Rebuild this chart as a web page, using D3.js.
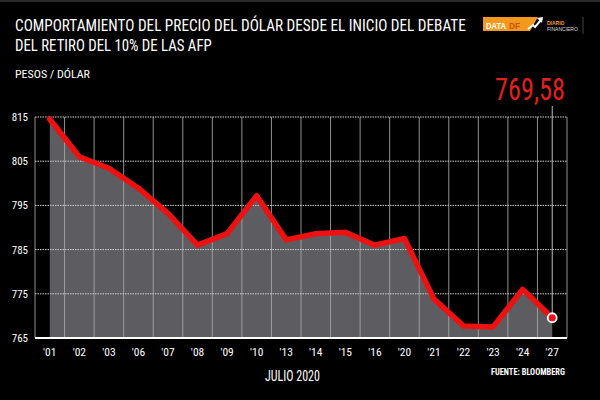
<!DOCTYPE html>
<html><head><meta charset="utf-8">
<script src="https://cdn.jsdelivr.net/npm/d3@7"></script>
<style>
html,body{margin:0;padding:0;background:#000;}
text{font-family:"Liberation Sans Narrow","Arial Narrow","Roboto Condensed","Liberation Sans",sans-serif;}
</style></head>
<body>
<svg id="chart" width="600" height="400"></svg>
<script>
const categories = ["'01","'02","'03","'06","'07","'08","'09","'10","'13","'14","'15","'16","'20","'21","'22","'23","'24","'27"];
const values = [814.5,806.0,803.4,798.9,793.2,786.0,788.6,797.2,787.2,788.6,788.9,786.0,787.5,773.8,767.7,767.5,776.0,769.58];
const yTicks = [765,775,785,795,805,815];
const titleLines = ["COMPORTAMIENTO DEL PRECIO DEL DÓLAR DESDE EL INICIO DEL DEBATE","DEL RETIRO DEL 10% DE LAS AFP"];
const unitLabel = "PESOS / DÓLAR";
const lastLabel = "769,58";
const xTitle = "JULIO 2020";
const source = "FUENTE: BLOOMBERG";

const svg = d3.select("#chart");
svg.append("rect").attr("width",600).attr("height",400).attr("fill","#000");
svg.append("rect").attr("width",600).attr("height",2).attr("fill","#2a2a2a");

const L=35,R=567,T=117,B=338;
const x = d3.scaleBand().domain(categories).range([L,R]).padding(0);
const cx = d => x(d)+x.bandwidth()/2;
const y = d3.scaleLinear().domain([765,815]).range([B,T]);

const data = categories.map((c,i)=>({c,v:values[i]}));

// fit a text horizontally to a target width with a scale transform
function fitText(sel, x0, w){
  const n = sel.node().getComputedTextLength();
  const s = w / n;
  sel.attr("x",0).attr("transform",`translate(${x0},${sel.attr("y")}) scale(${s},1)`).attr("y",0);
  return sel;
}

// area
svg.append("path").datum(data)
  .attr("fill","#5d5c61")
  .attr("d", d3.area().x(d=>cx(d.c)).y0(y(765)).y1(d=>y(d.v)));

// vertical grid at band boundaries
const bounds = categories.map(c=>x(c)).concat([R]);
svg.append("g").selectAll("line").data(bounds).join("line")
  .attr("x1",d=>d).attr("x2",d=>d).attr("y1",T).attr("y2",B)
  .attr("stroke","#a9a9a9").attr("stroke-width",1).attr("opacity",0.85);

// horizontal grid
svg.append("g").selectAll("line").data(yTicks.filter(t=>t>765)).join("line")
  .attr("x1",L).attr("x2",R).attr("y1",d=>y(d)).attr("y2",d=>y(d))
  .attr("stroke","#d0d0d0").attr("stroke-width",1).attr("stroke-dasharray","1.5,1");

// baseline
svg.append("line").attr("x1",L).attr("x2",R).attr("y1",y(765)).attr("y2",y(765))
  .attr("stroke","#fff").attr("stroke-width",2);

// y axis labels
const yAxis = d3.axisLeft(y).tickValues(yTicks).tickSize(0).tickPadding(7);
const ya = svg.append("g").attr("transform",`translate(${L},0)`).call(yAxis);
ya.select(".domain").remove();
ya.selectAll("text").attr("fill","#fff").style("font-size","11px");

// x axis labels
const xAxis = d3.axisBottom(x).tickSize(0).tickPadding(10);
const xa = svg.append("g").attr("transform",`translate(0,${B})`).call(xAxis);
xa.select(".domain").remove();
xa.selectAll("text").attr("fill","#fff").style("font-size","11.5px");

// vertical marker line for last point
const last = data[data.length-1];
svg.append("line").attr("x1",cx(last.c)).attr("x2",cx(last.c)).attr("y1",106).attr("y2",y(last.v))
  .attr("stroke","#bbb").attr("stroke-width",1);

// red line
svg.append("path").datum(data)
  .attr("fill","none").attr("stroke","#ee1111").attr("stroke-width",5.5)
  .attr("stroke-linejoin","round").attr("stroke-linecap","round")
  .attr("d", d3.line().x(d=>cx(d.c)).y(d=>y(d.v)));

svg.append("circle").attr("cx",cx(last.c)).attr("cy",y(last.v)).attr("r",4.5)
  .attr("fill","#e8141a").attr("stroke","#fff").attr("stroke-width",1.8);

// titles
fitText(svg.append("text").attr("y",31).attr("fill","#fff").style("font-size","16px").text(titleLines[0]), 15, 451);
fitText(svg.append("text").attr("y",51).attr("fill","#fff").style("font-size","16px").text(titleLines[1]), 15, 197);
fitText(svg.append("text").attr("y",78).attr("fill","#fff").style("font-size","11px").text(unitLabel), 15, 75);
fitText(svg.append("text").attr("y",100).attr("fill","#e3201b").style("font-size","31px").text(lastLabel), 495, 70);
fitText(svg.append("text").attr("y",381).attr("fill","#fff").style("font-size","14px").text(xTitle), 265, 55);
fitText(svg.append("text").attr("y",375).attr("fill","#fff").style("font-size","9.5px").style("font-weight","bold").text(source), 491, 74);

// logo
const lg = svg.append("g");
const lf = "'Liberation Sans', Arial, sans-serif";
lg.append("path").attr("d","M483,17 H538 L530,31 H483 Z").attr("fill","#f39a1e");
fitText(lg.append("text").attr("y",28.5).attr("fill","#fff").style("font-size","9px").style("font-weight","bold")
  .style("font-family",lf).text("DATA"), 486, 20);
fitText(lg.append("text").attr("y",28.5).attr("fill","#c9500a").style("font-size","9px").style("font-weight","bold")
  .style("font-family",lf).text("DF"), 509, 11);
lg.append("path").attr("d","M528,29 L533,25 L535,27 L541,20").attr("fill","none").attr("stroke","#fff").attr("stroke-width",2);
lg.append("path").attr("d","M537,18 L543,17 L542,23 Z").attr("fill","#fff");
lg.append("text").attr("x",547).attr("y",25).attr("fill","#f39a1e").style("font-size","5px").style("font-weight","bold")
  .style("font-family",lf).text("DIARIO");
lg.append("text").attr("x",547).attr("y",31).attr("fill","#ddd").style("font-size","5px")
  .style("font-family",lf).text("FINANCIERO");
lg.append("line").attr("x1",583).attr("x2",583).attr("y1",17).attr("y2",34).attr("stroke","#444").attr("stroke-width",1);
</script>
</body></html>
